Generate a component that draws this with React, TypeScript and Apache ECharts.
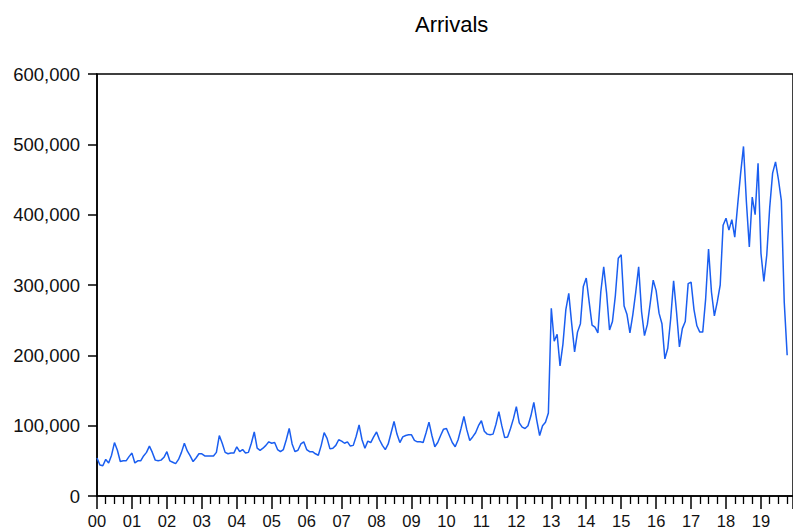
import React, { useEffect, useRef } from "react";
import * as echarts from "echarts";

// Monthly arrivals, thousands (Jan..Dec)
const a2000 = [54, 44, 43, 52, 47, 58, 76, 65, 49, 50, 50, 56];
const a2001 = [61, 47, 50, 50, 57, 62, 71, 62, 51, 50, 51, 55];
const a2002 = [63, 50, 48, 46, 52, 62, 75, 64, 57, 49, 54, 60];
const a2003 = [60, 57, 57, 57, 57, 62, 86, 75, 62, 60, 61, 61];
const a2004 = [70, 63, 66, 61, 62, 75, 91, 68, 65, 68, 72, 77];
const a2005 = [75, 76, 66, 63, 66, 80, 96, 74, 63, 65, 74, 77];
const a2006 = [66, 63, 63, 60, 58, 72, 90, 82, 67, 68, 72, 80];
const a2007 = [78, 75, 77, 71, 72, 85, 101, 80, 68, 78, 76, 84];
const a2008 = [91, 80, 72, 66, 74, 90, 106, 88, 76, 84, 86, 87];
const a2009 = [87, 79, 77, 77, 76, 90, 105, 86, 70, 76, 86, 95];
const a2010 = [96, 86, 76, 70, 80, 96, 113, 94, 79, 84, 90, 100];
const a2011 = [107, 92, 88, 87, 88, 102, 120, 100, 83, 84, 96, 110];
const a2012 = [127, 104, 98, 96, 100, 114, 133, 108, 86, 100, 105, 118];
const a2013 = [267, 220, 230, 185, 216, 265, 288, 245, 205, 233, 245, 298];
const a2014 = [310, 276, 243, 240, 232, 290, 326, 288, 236, 248, 285, 338];
const a2015 = [343, 270, 258, 232, 258, 290, 326, 262, 228, 244, 275, 307];
const a2016 = [292, 260, 245, 195, 210, 252, 306, 262, 212, 238, 248, 302];
const a2017 = [304, 265, 242, 233, 233, 280, 351, 290, 256, 276, 300, 385];
const a2018 = [395, 378, 393, 368, 414, 458, 497, 418, 354, 425, 400, 473];
const a2019 = [345, 305, 343, 410, 459, 475, 450, 420, 275, 200];

const yearLabels = ["00", "01", "02", "03", "04", "05", "06", "07", "08", "09", "10", "11", "12", "13", "14", "15", "16", "17", "18", "19"];

const allYears = [a2000, a2001, a2002, a2003, a2004, a2005, a2006, a2007, a2008, a2009, a2010, a2011, a2012, a2013, a2014, a2015, a2016, a2017, a2018, a2019];

const FONT = "'Liberation Sans', Arial, sans-serif";

export default function App() {
  const ref = useRef<HTMLDivElement>(null);
  useEffect(() => {
    if (!ref.current) return;
    const chart = echarts.init(ref.current, undefined, { renderer: "svg" });
    const flat: number[] = ([] as number[]).concat(...allYears);
    const data = flat.map((v, i) => [i, v * 1000]);
    const monthStep = 2.932;
    chart.setOption({
      animation: false,
      backgroundColor: "#ffffff",
      title: {
        text: "Arrivals",
        left: 410,
        top: 8,
        textStyle: { fontFamily: FONT, fontSize: 22, fontWeight: "normal", color: "#000" },
      },
      grid: {
        left: 97,
        top: 74,
        width: 239 * monthStep,
        height: 422,
        show: true,
        borderColor: "#000",
        borderWidth: 1.5,
        backgroundColor: "transparent",
      },
      xAxis: {
        type: "value",
        min: 0,
        max: 239,
        interval: 12,
        axisLine: { show: true, lineStyle: { color: "#000", width: 1.5 } },
        axisTick: { show: true, inside: false, length: 13, lineStyle: { color: "#000", width: 1.5 } },
        minorTick: { show: true, splitNumber: 4, length: 8, lineStyle: { color: "#000", width: 1.3 } },
        splitLine: { show: false },
        minorSplitLine: { show: false },
        axisLabel: {
          margin: 16,
          fontFamily: FONT,
          fontSize: 16.5,
          color: "#111",
          showMaxLabel: false,
          formatter: (v: number) => (v % 12 === 0 ? yearLabels[v / 12] ?? "" : ""),
        },
      },
      yAxis: {
        type: "value",
        min: 0,
        max: 600000,
        interval: 100000,
        axisLine: { show: true, lineStyle: { color: "#000", width: 1.5 } },
        axisTick: { show: true, inside: false, length: 9, lineStyle: { color: "#000", width: 1.5 } },
        splitLine: { show: false },
        axisLabel: {
          margin: 17,
          fontFamily: FONT,
          fontSize: 18.5,
          color: "#111",
          formatter: (v: number) => v.toLocaleString("en-US"),
        },
      },
      series: [
        {
          type: "line",
          data,
          showSymbol: false,
          lineStyle: { color: "#1a5ef0", width: 1.5 },
          silent: true,
        },
      ],
    });
    return () => chart.dispose();
  }, []);
  return (
    <div
      ref={ref}
      style={{ position: "fixed", left: 0, top: 0, width: 793, height: 530 }}
    />
  );
}
